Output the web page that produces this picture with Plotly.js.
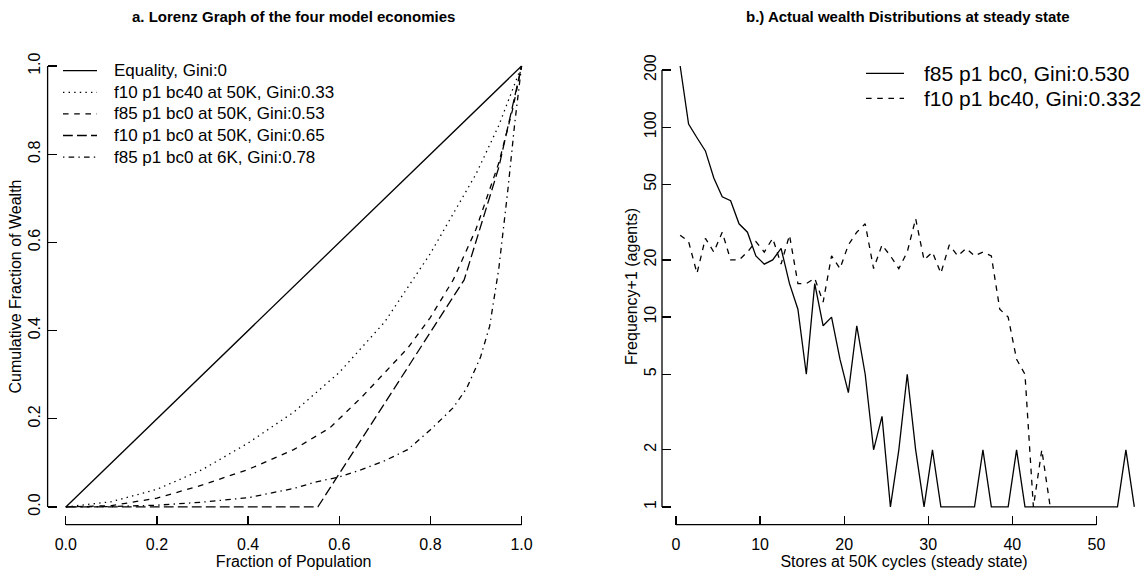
<!DOCTYPE html>
<html>
<head>
<meta charset="utf-8">
<script src="https://cdn.plot.ly/plotly-3.0.1.min.js"></script>
<style>
html, body { margin: 0; padding: 0; background: #ffffff; overflow: hidden; }
#chart { width: 1146px; height: 571px; }
</style>
</head>
<body>
<div id="chart"></div>
<script>
// ---------- Panel a: Lorenz curves ----------
const equalityX = [0, 1];
const equalityY = [0, 1];

const f10bc40_50K_X = [0, 0.1, 0.2, 0.3, 0.4, 0.5, 0.6, 0.7, 0.8, 0.9, 0.95, 1];
const f10bc40_50K_Y = [0, 0.012, 0.04, 0.085, 0.145, 0.215, 0.305, 0.42, 0.575, 0.755, 0.865, 1];

const f85bc0_50K_X = [0, 0.1, 0.2, 0.3, 0.4, 0.5, 0.58, 0.65, 0.7, 0.75, 0.8, 0.85, 0.9, 0.95, 0.98, 1];
const f85bc0_50K_Y = [0, 0.003, 0.02, 0.05, 0.085, 0.13, 0.18, 0.25, 0.305, 0.36, 0.43, 0.515, 0.63, 0.78, 0.9, 1];

const f10bc0_50K_X = [0, 0.553, 0.874, 0.95, 1];
const f10bc0_50K_Y = [0, 0, 0.515, 0.77, 1];

const f85bc0_6K_X = [0, 0.1, 0.2, 0.3, 0.4, 0.5, 0.55, 0.6, 0.65, 0.7, 0.75, 0.8, 0.85, 0.88, 0.91, 0.93, 0.95, 0.97, 0.985, 1];
const f85bc0_6K_Y = [0, 0.001, 0.004, 0.011, 0.021, 0.042, 0.057, 0.068, 0.085, 0.105, 0.13, 0.175, 0.225, 0.27, 0.34, 0.41, 0.54, 0.72, 0.87, 1];

const lorenzNames = [
  'Equality, Gini:0',
  'f10 p1 bc40 at 50K, Gini:0.33',
  'f85 p1 bc0 at 50K, Gini:0.53',
  'f10 p1 bc0 at 50K, Gini:0.65',
  'f85 p1 bc0 at 6K, Gini:0.78'
];
const lorenzTicks = [0, 0.2, 0.4, 0.6, 0.8, 1.0];

// ---------- Panel b: wealth distributions ----------
const storesX = [0.5, 1.5, 2.5, 3.5, 4.5, 5.5, 6.5, 7.5, 8.5, 9.5,
  10.5, 11.5, 12.5, 13.5, 14.5, 15.5, 16.5, 17.5, 18.5, 19.5,
  20.5, 21.5, 22.5, 23.5, 24.5, 25.5, 26.5, 27.5, 28.5, 29.5,
  30.5, 31.5, 32.5, 33.5, 34.5, 35.5, 36.5, 37.5, 38.5, 39.5,
  40.5, 41.5, 42.5, 43.5, 44.5, 45.5, 46.5, 47.5, 48.5, 49.5,
  50.5, 51.5, 52.5, 53.5, 54.5];

const f85bc0Freq = [210, 104, 88, 75, 54, 43, 41, 31, 28, 21,
  19, 20, 23, 15, 11, 5, 15, 9, 10, 6,
  4, 9, 5, 2, 3, 1, 2, 5, 2, 1,
  2, 1, 1, 1, 1, 1, 2, 1, 1, 1,
  2, 1, 1, 1, 1, 1, 1, 1, 1, 1,
  1, 1, 1, 2, 1];

const f10bc40Freq = [27, 25, 17, 26, 22, 28, 20, 20, 22, 25,
  22, 26, 19, 27, 15, 15, 16, 12, 21, 18,
  24, 28, 31, 18, 24, 21, 18, 22, 33, 20,
  22, 17, 24, 21, 23, 21, 22, 21, 11, 10,
  6, 5, 1, 2, 1];

const distNames = ['f85 p1 bc0, Gini:0.530', 'f10 p1 bc40, Gini:0.332'];
const storeTicks = [0, 10, 20, 30, 40, 50];
const freqTicks = [1, 2, 5, 10, 20, 50, 100, 200];

// ---------- geometry / styles ----------
const W = 1146, H = 571;
const domA = [47.6 / W, 539.8 / W];
const domB = [662 / W, 1];
const domY = [1 - 524.6 / H, 1 - 48.4 / H];
const rangeA = [-0.04, 1.04];
const rangeBx = [-1.66, 55.89];
const rangeBy = [-0.0929, 2.415];

function px(dom, rng, v) { return dom[0] + (v - rng[0]) / (rng[1] - rng[0]) * (dom[1] - dom[0]); }

const LW = 1.3;
const FONT = 'Liberation Sans, Arial, Helvetica, sans-serif';
const black = '#000000';

const lorenzDash = ['solid', '1.4px,4.2px', '5.6px,5.6px', '9.8px,4.2px', '1.4px,4.2px,5.6px,4.2px'];
const distDash = ['solid', '5.6px,5.6px'];

const lorenzXs = [equalityX, f10bc40_50K_X, f85bc0_50K_X, f10bc0_50K_X, f85bc0_6K_X];
const lorenzYs = [equalityY, f10bc40_50K_Y, f85bc0_50K_Y, f10bc0_50K_Y, f85bc0_6K_Y];

const traces = [];
lorenzXs.forEach((xs, i) => {
  traces.push({ x: xs, y: lorenzYs[i], name: lorenzNames[i], mode: 'lines',
    line: { color: black, width: LW, dash: lorenzDash[i] }, xaxis: 'x', yaxis: 'y', showlegend: false });
});
traces.push({ x: storesX.slice(0, f85bc0Freq.length), y: f85bc0Freq, name: distNames[0], mode: 'lines',
  line: { color: black, width: LW, dash: distDash[0] }, xaxis: 'x2', yaxis: 'y2', showlegend: false });
traces.push({ x: storesX.slice(0, f10bc40Freq.length), y: f10bc40Freq, name: distNames[1], mode: 'lines',
  line: { color: black, width: LW, dash: distDash[1] }, xaxis: 'x2', yaxis: 'y2', showlegend: false });

const axCommon = {
  showgrid: false, zeroline: false, showline: false,
  ticks: 'inside', ticklen: 9, tickwidth: LW, tickcolor: black,
  tickfont: { family: FONT, size: 16, color: black },
  automargin: false, fixedrange: true
};

const lineStyle = { color: black, width: LW };
const shapes = [
  // R-style axis lines spanning first to last tick
  { type: 'line', xref: 'paper', yref: 'paper', x0: px(domA, rangeA, lorenzTicks[0]), x1: px(domA, rangeA, lorenzTicks[lorenzTicks.length - 1]), y0: domY[0], y1: domY[0], line: lineStyle },
  { type: 'line', xref: 'paper', yref: 'paper', x0: domA[0], x1: domA[0], y0: px(domY, rangeA, lorenzTicks[0]), y1: px(domY, rangeA, lorenzTicks[lorenzTicks.length - 1]), line: lineStyle },
  { type: 'line', xref: 'paper', yref: 'paper', x0: px(domB, rangeBx, storeTicks[0]), x1: px(domB, rangeBx, storeTicks[storeTicks.length - 1]), y0: domY[0], y1: domY[0], line: lineStyle },
  { type: 'line', xref: 'paper', yref: 'paper', x0: domB[0], x1: domB[0], y0: px(domY, rangeBy, Math.log10(freqTicks[0])), y1: px(domY, rangeBy, Math.log10(freqTicks[freqTicks.length - 1])), line: lineStyle }
];

const annotations = [
  { text: 'a. Lorenz Graph of the four model economies', xref: 'paper', yref: 'paper',
    x: (domA[0] + domA[1]) / 2, y: 1 - 17 / H, xanchor: 'center', yanchor: 'middle', showarrow: false,
    font: { family: FONT, size: 15, color: black, weight: 'bold' } },
  { text: 'b.) Actual wealth Distributions at steady state', xref: 'paper', yref: 'paper',
    x: 907.6 / W, y: 1 - 17 / H, xanchor: 'center', yanchor: 'middle', showarrow: false,
    font: { family: FONT, size: 15, color: black, weight: 'bold' } }
];

// R-style legends (line sample + label), panel a
const legA = { lineX0: 63, lineX1: 97, textX: 112, rowY0: 70.7, rowStep: 21.6, size: 17 };
lorenzNames.forEach((nm, i) => {
  const yy = 1 - (legA.rowY0 + i * legA.rowStep) / H;
  shapes.push({ type: 'line', xref: 'paper', yref: 'paper', x0: legA.lineX0 / W, x1: legA.lineX1 / W, y0: yy, y1: yy,
    line: { color: black, width: LW, dash: lorenzDash[i] } });
  annotations.push({ text: nm, xref: 'paper', yref: 'paper', x: legA.textX / W, y: yy, xanchor: 'left', yanchor: 'middle',
    showarrow: false, font: { family: FONT, size: legA.size, color: black } });
});
// panel b legend
const legB = { lineX0: 866, lineX1: 904, textX: 922, rowY0: 73.3, rowStep: 25, size: 21 };
distNames.forEach((nm, i) => {
  const yy = 1 - (legB.rowY0 + i * legB.rowStep) / H;
  shapes.push({ type: 'line', xref: 'paper', yref: 'paper', x0: legB.lineX0 / W, x1: legB.lineX1 / W, y0: yy, y1: yy,
    line: { color: black, width: LW, dash: distDash[i] } });
  annotations.push({ text: nm, xref: 'paper', yref: 'paper', x: legB.textX / W, y: yy, xanchor: 'left', yanchor: 'middle',
    showarrow: false, font: { family: FONT, size: legB.size, color: black } });
});

const layout = {
  width: W, height: H,
  margin: { l: 0, r: 0, t: 0, b: 0, pad: 0 },
  paper_bgcolor: '#ffffff', plot_bgcolor: '#ffffff',
  font: { family: FONT, size: 16, color: black },
  showlegend: false,
  xaxis: Object.assign({}, axCommon, {
    domain: domA, range: rangeA, anchor: 'y',
    tickvals: lorenzTicks, tickformat: '.1f', ticklabelstandoff: 8,
    title: { text: 'Fraction of Population', font: { family: FONT, size: 16, color: black }, standoff: 0 }
  }),
  yaxis: Object.assign({}, axCommon, {
    domain: domY, range: rangeA, anchor: 'x',
    tickvals: lorenzTicks, tickformat: '.1f', tickangle: -90, ticklabelstandoff: 3,
    title: { text: 'Cumulative Fraction of Wealth', font: { family: FONT, size: 16, color: black }, standoff: 0 }
  }),
  xaxis2: Object.assign({}, axCommon, {
    domain: domB, range: rangeBx, anchor: 'y2',
    tickvals: storeTicks, ticklabelstandoff: 8,
    title: { text: 'Stores at 50K cycles (steady state)', font: { family: FONT, size: 16, color: black }, standoff: 0 }
  }),
  yaxis2: Object.assign({}, axCommon, {
    type: 'log', domain: domY, range: rangeBy, anchor: 'x2',
    tickvals: freqTicks, ticktext: freqTicks.map(String), tickangle: -90, ticklabelstandoff: 2,
    title: { text: 'Frequency+1 (agents)', font: { family: FONT, size: 16, color: black }, standoff: 0 }
  }),
  annotations: annotations,
  shapes: shapes
};

Plotly.newPlot('chart', traces, layout, { displayModeBar: false, staticPlot: true });
</script>
</body>
</html>
